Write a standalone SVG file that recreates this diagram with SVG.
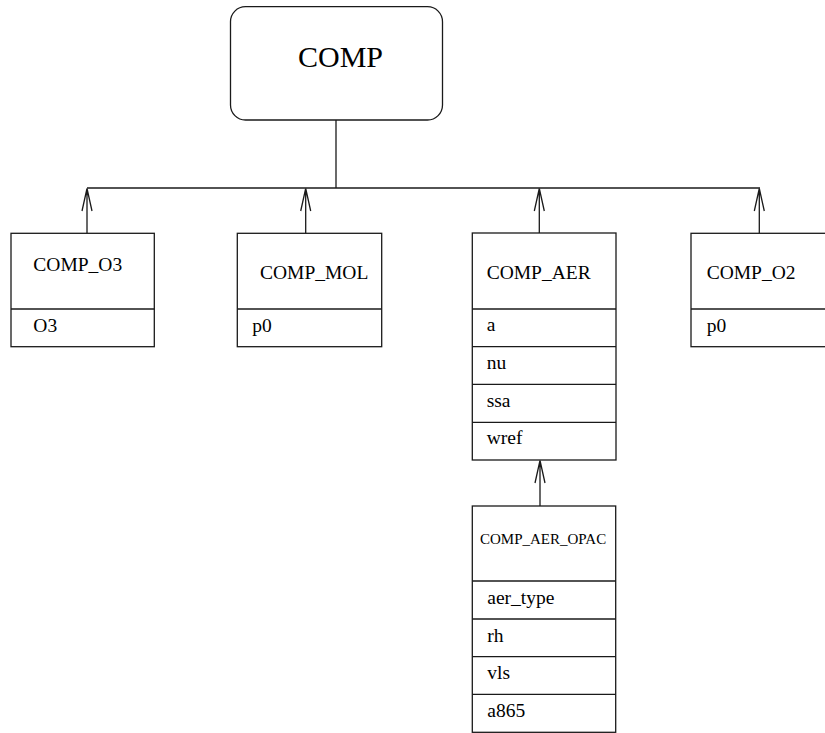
<svg xmlns="http://www.w3.org/2000/svg" width="825" height="733" viewBox="0 0 825 733">
  <style>
    .box { fill: #ffffff; stroke: #1a1a1a; stroke-width: 1.3; }
    .sep { stroke: #1a1a1a; stroke-width: 1.3; }
    .wire { fill: none; stroke: #1a1a1a; stroke-width: 1.3; }
    text { font-family: 'Liberation Serif', 'DejaVu Serif', serif; fill: #000000; }
    .lbl { font-size: 19.5px; }
    .big { font-size: 30px; }
    .small { font-size: 15px; }
  </style>
  <rect x="0" y="0" width="825" height="733" fill="#ffffff"/>

  <!-- trunk from COMP down to the bus, then one open-arrow branch per subclass -->
  <g id="connectors">
    <line class="wire" x1="336" y1="120" x2="336" y2="188"/>
    <line class="wire" x1="87" y1="188" x2="760" y2="188"/>
    <path class="wire" d="M 87 233 V 188.5 M 87 188.5 L 82 211 M 87 188.5 L 92 211"/>
    <path class="wire" d="M 305.7 233 V 188.5 M 305.7 188.5 L 300.7 211 M 305.7 188.5 L 310.7 211"/>
    <path class="wire" d="M 539.3 233 V 188.5 M 539.3 188.5 L 534.3 211 M 539.3 188.5 L 544.3 211"/>
    <path class="wire" d="M 759.3 233 V 188.5 M 759.3 188.5 L 754.3 211 M 759.3 188.5 L 764.3 211"/>
    <path class="wire" d="M 540 506 V 460.5 M 540 460.5 L 535 483 M 540 460.5 L 545 483"/>
  </g>

  <g id="node-comp">
    <rect class="box" x="230.5" y="6.7" width="212" height="113.3" rx="15" ry="15"/>
    <text class="big" x="298" y="66.7" font-family="Liberation Serif, serif">COMP</text>
  </g>

  <g id="node-comp-o3" font-family="Liberation Serif, serif">
    <rect class="box" x="11" y="233.3" width="143.3" height="113.4"/>
    <line class="sep" x1="11" y1="309" x2="154.3" y2="309"/>
    <text class="lbl" x="33.3" y="270.7">COMP_O3</text>
    <text class="lbl" x="33.3" y="331.5">O3</text>
  </g>

  <g id="node-comp-mol">
    <rect class="box" x="237.3" y="233.3" width="144.4" height="113.4"/>
    <line class="sep" x1="237.3" y1="309" x2="381.7" y2="309"/>
    <text class="lbl" x="260" y="279.3">COMP_MOL</text>
    <text class="lbl" x="252.3" y="331.5">p0</text>
  </g>

  <g id="node-comp-aer">
    <rect class="box" x="472.3" y="233" width="143.7" height="227"/>
    <line class="sep" x1="472.3" y1="309" x2="616" y2="309"/>
    <line class="sep" x1="472.3" y1="346.7" x2="616" y2="346.7"/>
    <line class="sep" x1="472.3" y1="384.3" x2="616" y2="384.3"/>
    <line class="sep" x1="472.3" y1="422.3" x2="616" y2="422.3"/>
    <text class="lbl" x="486.7" y="279.3">COMP_AER</text>
    <text class="lbl" x="486.7" y="331">a</text>
    <text class="lbl" x="486.7" y="369">nu</text>
    <text class="lbl" x="486.7" y="406.7">ssa</text>
    <text class="lbl" x="486.7" y="444.3">wref</text>
  </g>

  <g id="node-comp-o2">
    <rect class="box" x="691" y="233.3" width="145" height="113.4"/>
    <line class="sep" x1="691" y1="309" x2="836" y2="309"/>
    <text class="lbl" x="706.7" y="279.3">COMP_O2</text>
    <text class="lbl" x="706.7" y="331.5">p0</text>
  </g>

  <g id="node-comp-aer-opac">
    <rect class="box" x="472.3" y="506" width="143.4" height="226.3"/>
    <line class="sep" x1="472.3" y1="581" x2="615.7" y2="581"/>
    <line class="sep" x1="472.3" y1="619" x2="615.7" y2="619"/>
    <line class="sep" x1="472.3" y1="656.7" x2="615.7" y2="656.7"/>
    <line class="sep" x1="472.3" y1="694.3" x2="615.7" y2="694.3"/>
    <text class="small" x="480" y="544">COMP_AER_OPAC</text>
    <text class="lbl" x="487.3" y="603.5">aer_type</text>
    <text class="lbl" x="487.3" y="641.5">rh</text>
    <text class="lbl" x="487.3" y="679">vls</text>
    <text class="lbl" x="487.3" y="716.5">a865</text>
  </g>
</svg>
